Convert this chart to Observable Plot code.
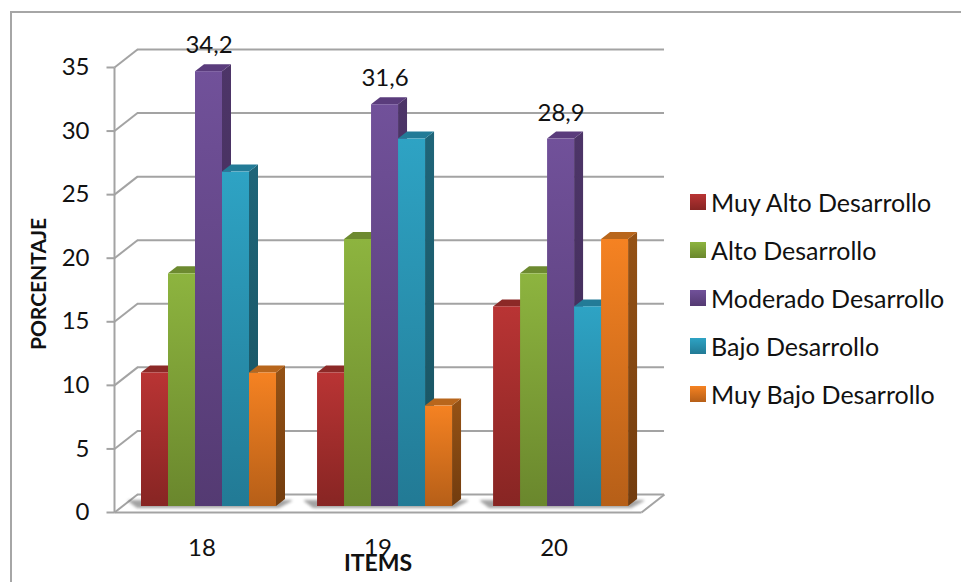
<!DOCTYPE html>
<html lang="es">
<head>
<meta charset="utf-8">
<script src="https://cdn.jsdelivr.net/npm/d3@7"></script>
<script src="https://cdn.jsdelivr.net/npm/@observablehq/plot@0.6"></script>
<style>
  html, body { margin: 0; padding: 0; background: #fff; }
  #chart { position: relative; width: 961px; height: 582px; overflow: hidden; font-family: Lato, sans-serif; }
  #border { position: absolute; left: 10px; top: 11px; width: 1000px; height: 600px; border: 2px solid #a6a6a6; box-sizing: border-box; }
  #chart svg { position: absolute; left: 0; top: 0; }
  #legend { position: absolute; left: 690px; top: 182px; }
  .key { position: absolute; left: 0; height: 40px; white-space: nowrap; display: flex; align-items: center; font-size: 25px; color: #111; }
  .swatch { width: 16px; height: 16px; margin-right: 5px; flex: none; }
</style>
</head>
<body>
<div id="chart"><div id="border"></div><div id="legend"></div></div>
<script>
const items = ["18", "19", "20"];
const series = ["Muy Alto Desarrollo", "Alto Desarrollo", "Moderado Desarrollo", "Bajo Desarrollo", "Muy Bajo Desarrollo"];
const muyAlto = [10.5, 10.5, 15.7];
const alto = [18.3, 21.0, 18.3];
const moderado = [34.2, 31.6, 28.9];
const bajo = [26.3, 28.9, 15.7];
const muyBajo = [10.5, 7.9, 21.0];
const yTicks = [0, 5, 10, 15, 20, 25, 30, 35];

// Per-series shading: front gradient (top, bottom), side gradient (top, bottom), top cap.
const frontTop = ["#b93434", "#8db43f", "#71519a", "#2ea3c4", "#f58222"];
const frontBottom = ["#872523", "#6a872d", "#543a72", "#227a95", "#b65f18"];
const sideTop = ["#7f2422", "#637e2b", "#4d3568", "#1f6579", "#955215"];
const sideBottom = ["#6a1d1b", "#516823", "#3f2a55", "#19525f", "#723c0e"];
const capColor = ["#8c2927", "#6d8a30", "#5a3c7c", "#237b97", "#b8661c"];

// The x scale counts bar widths; a group of five bars repeats every groupStep slots.
const groupStep = 6.52;
const slotPx = 27;
const unitPx = 12.72;
const px = (n) => n / slotPx;
const py = (n) => n / unitPx;

const rows = [muyAlto, alto, moderado, bajo, muyBajo].flatMap((values, s) =>
  values.map((value, i) => ({item: items[i], itemIndex: i, seriesIndex: s, name: series[s], value, slot: i * groupStep + s}))
);
const labelled = rows.filter((d) => d.seriesIndex === 2);
const decimal = (v) => String(v).replace(".", ",");

// Wall and floor offsets of the box the bars stand in.
const xBack0 = px(-4);
const xBackEnd = px(664 - 141);
const xFront0 = xBack0 - px(23);
const xFrontEnd = xBackEnd - px(23);
const backLift = py(12);
const frontDrop = py(6);
const wall = "#a3a3a3";

function gradients() {
  const defs = d3.create("svg:defs");
  const add = (id, top, bottom) => {
    const g = defs.append("linearGradient").attr("id", id).attr("x1", 0).attr("x2", 0).attr("y1", 0).attr("y2", 1);
    g.append("stop").attr("offset", 0).attr("stop-color", top);
    g.append("stop").attr("offset", 1).attr("stop-color", bottom);
  };
  series.forEach((_, s) => {
    add(`front${s}`, frontTop[s], frontBottom[s]);
    add(`side${s}`, sideTop[s], sideBottom[s]);
  });
  return defs.node();
}

// Each bar gets its side and top faces just before its front face, in drawing order.
function extrude(index, scales, values, dims, ctx, next) {
  const g = next(index, scales, values, dims, ctx);
  const rects = g.querySelectorAll("rect");
  const dx = 9, dy = 7;
  index.forEach((i, k) => {
    const d = rows[i];
    const x1 = scales.x(d.slot), x2 = scales.x(d.slot + 1);
    const yTop = scales.y(d.value), yBase = scales.y(0);
    const face = (points, fill) => {
      const p = document.createElementNS("http://www.w3.org/2000/svg", "polygon");
      p.setAttribute("points", points.map((q) => q.join(",")).join(" "));
      p.setAttribute("fill", fill);
      rects[k].parentNode.insertBefore(p, rects[k]);
    };
    face([[x2, yTop], [x2 + dx, yTop - dy], [x2 + dx, yBase - dy], [x2, yBase]], `url(#side${d.seriesIndex})`);
    face([[x1, yTop], [x1 + dx, yTop - dy], [x2 + dx, yTop - dy], [x2, yTop]], capColor[d.seriesIndex]);
  });
  return g;
}

const wallLines = yTicks.slice(1).map((v) => ({x1: xFront0, y1: v - frontDrop, x2: xBack0, y2: v + backLift}));
const floorLines = [
  {x1: xFront0, y1: -frontDrop, x2: xBack0, y2: backLift},
  {x1: xFrontEnd, y1: -frontDrop, x2: xBackEnd, y2: backLift},
  {x1: xFront0, y1: -frontDrop, x2: xFrontEnd, y2: -frontDrop},
  {x1: xFront0, y1: -frontDrop, x2: xFront0, y2: 35 - frontDrop}
];
const tickLines = yTicks.map((v) => ({x1: xFront0 - px(8), x2: xFront0, y1: v - frontDrop, y2: v - frontDrop}));

// Floor shadow of each group: a band under the front faces, slanting back on both sides.
const shadowBand = items.flatMap((_, i) => {
  const a = i * groupStep;
  return [
    {group: i, x: a - px(13), y1: py(5), y2: py(6)},
    {group: i, x: a - px(4), y1: py(-2), y2: py(6)},
    {group: i, x: a + 5 + px(3), y1: py(-2), y2: py(6)},
    {group: i, x: a + 5 + px(16), y1: py(5), y2: py(6)}
  ];
});

const chart = Plot.plot({
  width: 961,
  height: 582,
  marginLeft: 114,
  marginRight: 297,
  marginTop: 49,
  marginBottom: 70,
  style: {background: "transparent", fontFamily: "Lato, sans-serif"},
  x: {domain: [xFront0, xBackEnd], axis: null},
  y: {domain: [-frontDrop, 35 + backLift], axis: null},
  color: {domain: series, range: series.map((_, s) => `url(#front${s})`)},
  marks: [
    () => gradients(),
    Plot.ruleY(yTicks, {x1: xBack0, x2: xBackEnd, y: (v) => v + backLift, stroke: wall, strokeWidth: 2, strokeOpacity: 1}),
    Plot.link([...wallLines, ...floorLines, ...tickLines], {x1: "x1", y1: "y1", x2: "x2", y2: "y2", stroke: wall, strokeWidth: 2}),
    Plot.areaY(shadowBand, {x: "x", y1: "y1", y2: "y2", z: "group", fill: "#666", fillOpacity: 0.6, imageFilter: "blur(1.5px)"}),
    Plot.rectY(rows, {x1: "slot", x2: (d) => d.slot + 1, y1: 0, y2: "value", fill: "name", render: extrude}),
    Plot.text(labelled, {x: (d) => d.slot + 0.5, y: "value", text: (d) => decimal(d.value), dy: -26, fontSize: 24, fill: "#111"}),
    Plot.text(items, {x: (_, i) => i * groupStep + 2.5 - px(7), y: -frontDrop, dy: 36, text: (d) => d, fontSize: 24, fill: "#111"}),
    Plot.text(["ITEMS"], {x: groupStep + 2.5 - px(7), y: -frontDrop, dy: 51, text: (d) => d, fontSize: 23, fontWeight: "bold", fill: "#111"}),
    Plot.axisY(yTicks, {anchor: "left", tickSize: 0, tickPadding: 25, dy: 6, fontSize: 24, fill: "#111", label: null}),
    Plot.text(["PORCENTAJE"], {x: xFront0 - px(75), y: 17.5, text: (d) => d, rotate: -90, fontSize: 21, fontWeight: "bold", fill: "#111"})
  ]
});
document.getElementById("chart").appendChild(chart);

// Legend keys to the right of the plot, sharing the bar gradients' colours.
const legend = d3.select("#legend");
series.forEach((name, s) => {
  const key = legend.append("div").attr("class", "key").style("top", `${s * 48}px`);
  key.append("span").attr("class", "swatch").style("background", `linear-gradient(${frontTop[s]}, ${frontBottom[s]})`);
  key.append("span").text(name);
});
</script>
</body>
</html>
